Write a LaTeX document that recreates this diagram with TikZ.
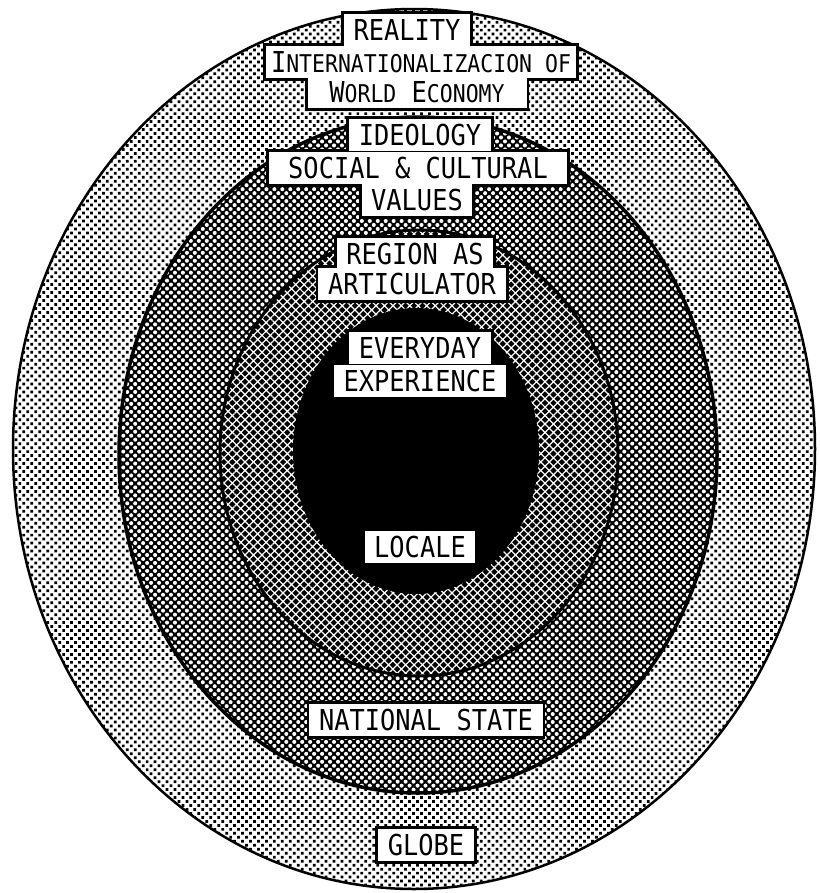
\documentclass[tikz,border=0pt]{standalone}
\usepackage{fontspec}
\newfontfamily\pixfont{DejaVu Sans Mono}[FakeStretch=0.88]
\usetikzlibrary{positioning,patterns.meta}
\pgfdeclarelayer{rings}
\pgfdeclarelayer{frames}
\pgfsetlayers{rings,frames,main}
\newcommand{\smc}[2]{#1{\fontsize{13.9}{16}\selectfont #2}}
\tikzset{tag/.style={fill=white,inner xsep=5.5pt,inner ysep=3pt,text height=12pt,text depth=0pt,font=\pixfont\fontsize{16.4}{19}\selectfont}  }
\tikzset{frame/.style={draw=black,line width=1mm}  }
\tikzset{globering/.style={preaction={fill=white},pattern={Dots[distance=3.2pt,radius=1.1pt,angle=45]},pattern color=black,line width=0.5mm}  }
\tikzset{statering/.style={preaction={fill=black},pattern={Dots[distance=3.2pt,radius=1.15pt,angle=45]},pattern color=white,line width=0.7mm}  }
\tikzset{regionring/.style={preaction={fill=black},pattern={Hatch[distance=3.4pt,angle=45,line width=0.7pt]},pattern color=white,line width=0.6mm}  }

\begin{document}
\begin{tikzpicture}[x=0.2mm,y=-0.2mm]
	\useasboundingbox (0,0) rectangle (819,893);
	\begin{pgfonlayer}{rings}
		\draw[globering] (414,449) ellipse [x radius=401,y radius=440];
		\draw[statering] (418,455) ellipse [x radius=299,y radius=338];
		\draw[regionring] (419,453) ellipse [x radius=199,y radius=223];
		\fill[black] (416,451) ellipse [x radius=123,y radius=143];
	\end{pgfonlayer}

		\node[tag] (reality) at (407,30) {REALITY};
		\node[tag,inner xsep=3pt] (intl) at (421,62) {\smc{I}{NTERNATIONALIZACION OF}};
		\node[tag,minimum width=43.8mm] (world) at (417,92) {\smc{W}{ORLD} \smc{E}{CONOMY}};

		\node[tag] (ideol) at (420,135) {IDEOLOGY};
		\node[tag,minimum width=59.6mm] (social) at (418,168) {SOCIAL \& CULTURAL};
		\node[tag] (values) at (417,200) {VALUES};

		\node[tag] (region) at (415,254) {REGION AS};
		\node[tag] (artic) at (412,284) {ARTICULATOR};

		\node[tag] (everyday) at (420,348) {EVERYDAY};
		\node[tag] (exper) at (420,381) {EXPERIENCE};
		\node[tag] (locale) at (420,547) {LOCALE};

		\node[tag] (nstate) at (426,720) {NATIONAL STATE};
		\node[tag] (globe) at (426,845) {GLOBE};

	% outlines under the white boxes, so stacked boxes merge
	\begin{pgfonlayer}{frames}
		\foreach \n in {reality,intl,world,ideol,social,values,region,artic,everyday,exper,locale,nstate,globe}
			\draw[frame] (\n.south west) rectangle (\n.north east);
	\end{pgfonlayer}
\end{tikzpicture}
\end{document}
